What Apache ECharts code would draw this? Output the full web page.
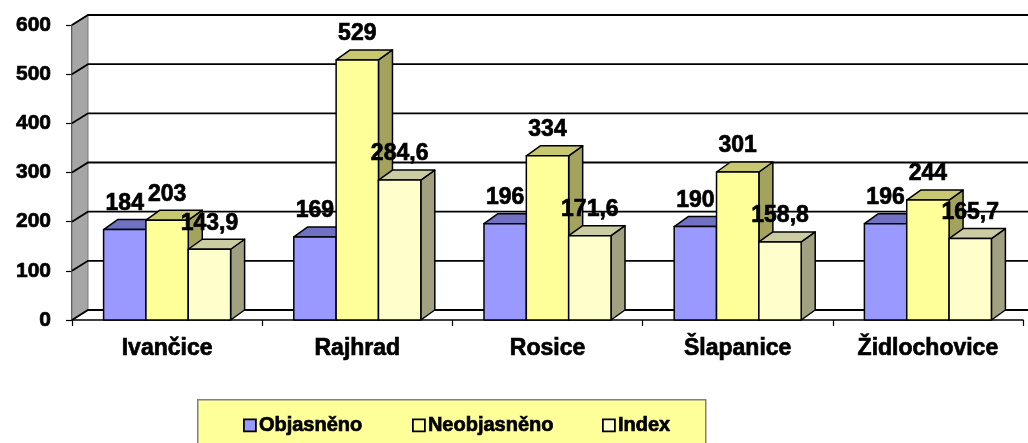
<!DOCTYPE html>
<html>
<head>
<meta charset="utf-8">
<script src="https://cdn.jsdelivr.net/npm/echarts@6/dist/echarts.min.js"></script>
<style>
  html, body { margin: 0; padding: 0; background: #ffffff; }
  #chart { width: 1028px; height: 443px; }
</style>
</head>
<body>
<div id="chart"></div>
<script>
// Districts and their values
const categories = ['Ivančice', 'Rajhrad', 'Rosice', 'Šlapanice', 'Židlochovice'];
const objasneno = [184, 169, 196, 190, 196];
const neobjasneno = [203, 529, 334, 301, 244];
const indexValues = [143.9, 284.6, 171.6, 158.8, 165.7];
const yTicks = [0, 100, 200, 300, 400, 500, 600];
const seriesNames = ['Objasněno', 'Neobjasněno', 'Index'];

const FONT = '"Liberation Sans", Arial, Helvetica, sans-serif';
const HEAVY = { textBorderColor: '#000000', textBorderWidth: 0.7 };

// Oblique depth of the walls and of the columns (pixels)
const WALL_DX = 16, WALL_DY = -10;
const BAR_DX = 14, BAR_DY = -10;
const BAR_FRACTION = 0.2226;   // one column width relative to the category band

const palette = [
  { front: '#9999FF', top: '#7171C4', side: '#5C5CA0' },
  { front: '#FFFF99', top: '#C8C871', side: '#A3A35E' },
  { front: '#FFFFCC', top: '#CCCCA3', side: '#A1A182' }
];

function fmt(v) {
  return String(v).replace('.', ',');
}

// 3-D column: front face, top face, right side face and a value label
function columnRenderer(slot) {
  const c = palette[slot];
  return function (params, api) {
    const ci = api.value(0);
    const v = api.value(1);
    const base = api.coord([ci, 0]);
    const top = api.coord([ci, v]);
    const band = api.size([1, 0])[0];
    const bw = band * BAR_FRACTION;
    const x0 = base[0] - 1.5 * bw + slot * bw;
    const x1 = x0 + bw;
    const yb = base[1];
    const yt = top[1];
    const stroke = { stroke: '#000000', lineWidth: 1.5, lineJoin: 'round' };
    return {
      type: 'group',
      children: [
        {
          type: 'polygon', z2: slot + 1,
          shape: { points: [[x1, yb], [x1, yt], [x1 + BAR_DX, yt + BAR_DY], [x1 + BAR_DX, yb + BAR_DY]] },
          style: Object.assign({ fill: c.side }, stroke)
        },
        {
          type: 'polygon', z2: slot + 1,
          shape: { points: [[x0, yt], [x1, yt], [x1 + BAR_DX, yt + BAR_DY], [x0 + BAR_DX, yt + BAR_DY]] },
          style: Object.assign({ fill: c.top }, stroke)
        },
        {
          type: 'rect', z2: slot + 1,
          shape: { x: x0, y: yt, width: bw, height: yb - yt },
          style: Object.assign({ fill: c.front }, stroke)
        },
        {
          type: 'text', z2: 20,
          style: {
            x: (x0 + x1) / 2, y: yt - 26,
            text: fmt(v),
            align: 'center', verticalAlign: 'middle',
            fill: '#000000', font: 'bold 23px ' + FONT,
            stroke: '#000000', lineWidth: 0.7
          }
        }
      ]
    };
  };
}

// Left wall and back-wall gridlines at every value tick
function wallRenderer(params, api) {
  const cs = params.coordSys;
  const v = api.value(1);
  const y = api.coord([0, v])[1];
  const gx = cs.x;
  const children = [];
  if (params.dataIndex === 0) {
    const yTop = api.coord([0, yTicks[yTicks.length - 1]])[1];
    const yBot = api.coord([0, yTicks[0]])[1];
    children.push({
      type: 'polygon', z2: 0,
      shape: { points: [[gx, yTop], [gx + WALL_DX, yTop + WALL_DY], [gx + WALL_DX, yBot + WALL_DY], [gx, yBot]] },
      style: { fill: '#A6A6A6', stroke: '#7a7a7a', lineWidth: 1 }
    });
  }
  children.push({
    type: 'polyline', z2: 1,
    shape: { points: [[gx, y], [gx + WALL_DX, y + WALL_DY], [gx + cs.width + WALL_DX + 10, y + WALL_DY]] },
    style: { fill: null, stroke: '#000000', lineWidth: 1.8 }
  });
  return { type: 'group', children: children };
}

const chart = echarts.init(document.getElementById('chart'), null, { renderer: 'canvas' });

const legendLefts = [243, 412, 602];
const legends = seriesNames.map(function (name, i) {
  return {
    left: legendLefts[i], top: 415,
    orient: 'horizontal',
    icon: 'rect', itemWidth: 12, itemHeight: 12,
    data: [{ name: name, itemStyle: { color: palette[i].front, borderColor: '#000000', borderWidth: 1.8 } }],
    textStyle: Object.assign({ fontFamily: FONT, fontWeight: 'bold', fontSize: 20, color: '#000000', padding: [0, 0, 0, -2] }, HEAVY),
    selectedMode: false,
    padding: 0
  };
});

const seriesData = [objasneno, neobjasneno, indexValues];

chart.setOption({
  animation: false,
  backgroundColor: '#ffffff',
  grid: { left: 72, right: 5, top: 25, bottom: 123, containLabel: false, outerBoundsMode: 'none' },
  graphic: [{
    type: 'rect', left: 197, top: 399, z: 0,
    shape: { width: 508, height: 60 },
    style: { fill: '#FFFF99', stroke: '#808080', lineWidth: 1.5 }
  }],
  legend: legends,
  xAxis: {
    type: 'category',
    data: categories,
    boundaryGap: true,
    axisLine: { lineStyle: { color: '#000000', width: 1.5 } },
    axisTick: { show: true, inside: false, length: 6, alignWithLabel: false, lineStyle: { color: '#000000', width: 1.2 } },
    axisLabel: Object.assign({ margin: 17, fontFamily: FONT, fontWeight: 'bold', fontSize: 23, color: '#000000', interval: 0 }, HEAVY),
    splitLine: { show: false }
  },
  yAxis: {
    type: 'value',
    min: 0, max: 600, interval: 100,
    axisLine: { show: true, lineStyle: { color: '#000000', width: 1.5 } },
    axisTick: { show: true, inside: false, length: 6, lineStyle: { color: '#000000', width: 1.2 } },
    axisLabel: Object.assign({ margin: 21, fontFamily: FONT, fontWeight: 'bold', fontSize: 21, color: '#000000' }, HEAVY),
    splitLine: { show: false }
  },
  series: [
    {
      type: 'custom', name: 'walls', z: 1, silent: true,
      renderItem: wallRenderer,
      data: yTicks.map(function (t) { return [0, t]; }),
      clip: false
    }
  ].concat(seriesData.map(function (vals, i) {
    return {
      type: 'custom', name: seriesNames[i], z: 2,
      renderItem: columnRenderer(i),
      data: vals.map(function (v, k) { return [k, v]; }),
      encode: { x: 0, y: 1 },
      clip: false
    };
  }))
});
</script>
</body>
</html>
